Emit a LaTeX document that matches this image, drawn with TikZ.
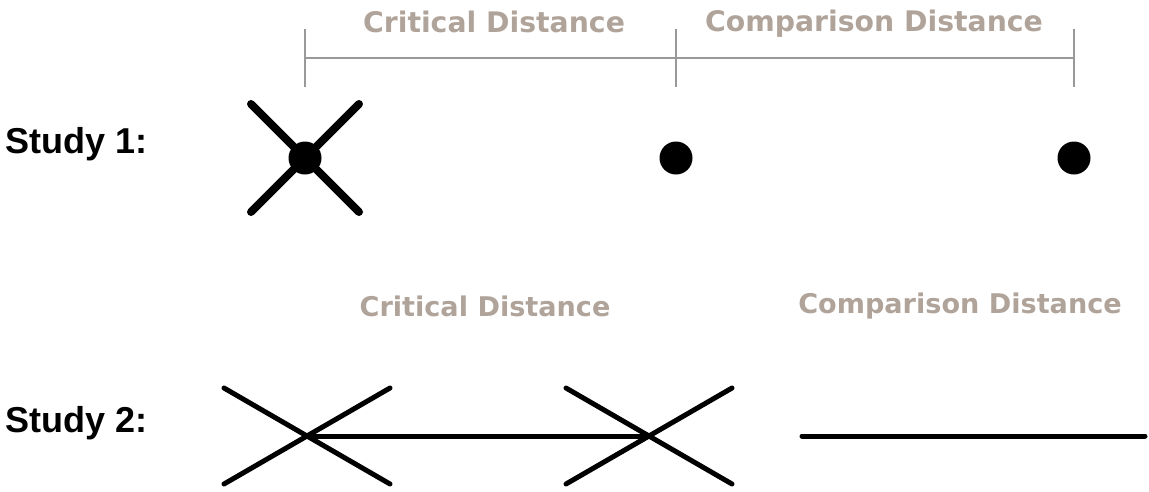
\documentclass[tikz,border=0pt]{standalone}
\usepackage{fontspec}
\newfontfamily\distfont{DejaVu Sans}
\newfontfamily\studyfont{Liberation Sans}
\definecolor{distgray}{RGB}{176,163,153}
\definecolor{bargray}{RGB}{153,153,153}

\begin{document}
\begin{tikzpicture}[x=1pt,y=-1pt,line cap=round,
  dist/.style={text=distgray,font=\distfont\bfseries\fontsize{28.3}{34}\selectfont,anchor=base,inner sep=0pt},
  distsmall/.style={dist,font=\distfont\bfseries\fontsize{27.1}{32}\selectfont},
  study/.style={font=\studyfont\bfseries\fontsize{36}{42}\selectfont,anchor=base west,inner sep=0pt},
  bracket/.style={bargray,line width=2pt,line cap=butt},
  dot/.style={circle,fill=black,minimum size=33pt,inner sep=0pt},
  bigcross/.style={line width=8pt},
  thin/.style={line width=5pt}]
  \useasboundingbox (0,0) rectangle (1149,491);
  % bracket on top
  \coordinate (b1) at (305,58);
  \coordinate (b2) at (676,58);
  \coordinate (b3) at (1074,58);
  \draw[bracket] (b1) -- (b2) -- (b3);
  \foreach \b in {b1,b2,b3} \draw[bracket] (\b) ++(0,-29) -- ++(0,58);
  \node[dist] (crit1) at (494,32) {Critical Distance};
  \node[dist] (comp1) at (874,31) {Comparison Distance};
  % study 1
  \node[study] (s1) at (5,153) {Study 1:};
  \node[dot] (p1) at (305,158) {};
  \node[dot] (p2) at (676,158) {};
  \node[dot] (p3) at (1074,158) {};
  \draw[bigcross] (p1.center) ++(-54,-54) -- ++(108,108);
  \draw[bigcross] (p1.center) ++(-54,54) -- ++(108,-108);
  % study 2
  \node[distsmall] (crit2) at (485,316) {Critical Distance};
  \node[distsmall] (comp2) at (960,313) {Comparison Distance};
  \node[study] (s2) at (5,432) {Study 2:};
  \coordinate (q1) at (307,436);
  \coordinate (q2) at (649,436);
  \coordinate (r1) at (802,436);
  \coordinate (r2) at (1145,436);
  \draw[thin] (q1) -- (q2);
  \draw[thin] (r1) -- (r2);
  \foreach \q in {q1,q2} {
    \draw[thin] (\q) ++(-83,-48) -- ++(166,96);
    \draw[thin] (\q) ++(-83,48) -- ++(166,-96);
  }
\end{tikzpicture}
\end{document}
